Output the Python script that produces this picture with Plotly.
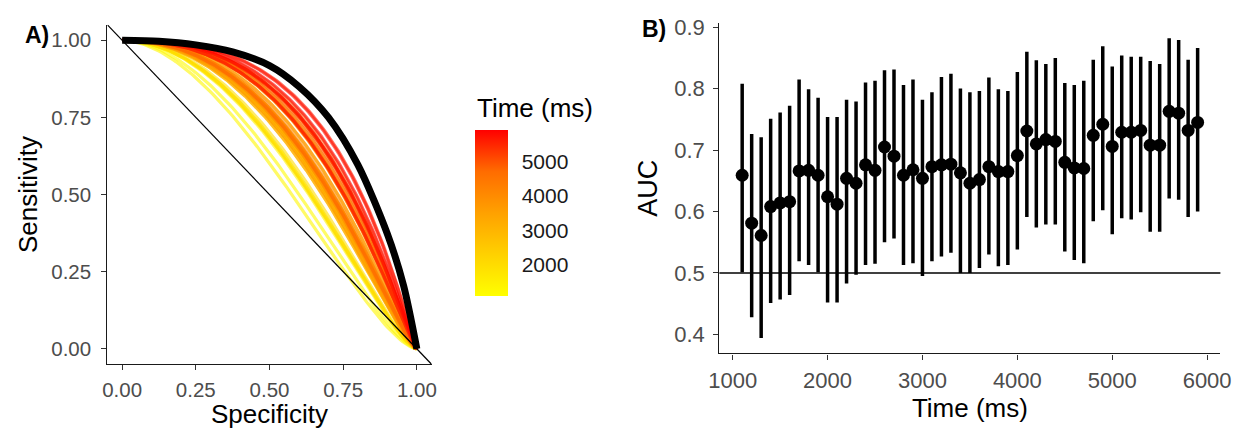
import plotly.graph_objects as go
from statistics import NormalDist

# ---------------- data ----------------
time_ms = [1100, 1200, 1300, 1400, 1500, 1600, 1700, 1800, 1900, 2000,
           2100, 2200, 2300, 2400, 2500, 2600, 2700, 2800, 2900, 3000,
           3100, 3200, 3300, 3400, 3500, 3600, 3700, 3800, 3900, 4000,
           4100, 4200, 4300, 4400, 4500, 4600, 4700, 4800, 4900, 5000,
           5100, 5200, 5300, 5400, 5500, 5600, 5700, 5800, 5900]

auc = [0.659, 0.581, 0.561, 0.608, 0.614, 0.616, 0.666, 0.667, 0.659, 0.624,
       0.612, 0.654, 0.646, 0.676, 0.667, 0.705, 0.690, 0.659, 0.668, 0.654,
       0.673, 0.676, 0.677, 0.663, 0.646, 0.652, 0.673, 0.665, 0.665, 0.691,
       0.731, 0.710, 0.717, 0.714, 0.680, 0.671, 0.670, 0.724, 0.742, 0.706,
       0.729, 0.729, 0.732, 0.708, 0.708, 0.763, 0.760, 0.732, 0.745]

auc_upper = [0.808, 0.726, 0.721, 0.751, 0.761, 0.772, 0.815, 0.799, 0.785, 0.754,
             0.754, 0.782, 0.779, 0.810, 0.813, 0.830, 0.831, 0.806, 0.815, 0.782,
             0.794, 0.819, 0.824, 0.800, 0.794, 0.796, 0.818, 0.799, 0.796, 0.827,
             0.860, 0.846, 0.840, 0.850, 0.809, 0.806, 0.813, 0.847, 0.869, 0.836,
             0.854, 0.852, 0.852, 0.845, 0.840, 0.882, 0.879, 0.847, 0.866]

auc_lower = [0.501, 0.428, 0.394, 0.451, 0.457, 0.464, 0.519, 0.513, 0.501, 0.452,
             0.452, 0.483, 0.497, 0.513, 0.515, 0.550, 0.556, 0.513, 0.516, 0.495,
             0.519, 0.527, 0.533, 0.500, 0.500, 0.508, 0.530, 0.511, 0.513, 0.538,
             0.591, 0.574, 0.579, 0.579, 0.535, 0.521, 0.516, 0.584, 0.602, 0.563,
             0.589, 0.587, 0.599, 0.567, 0.567, 0.621, 0.619, 0.591, 0.600]

# overall ROC curve (thick black)
black_spec = [0.0, 0.125, 0.25, 0.375, 0.5, 0.6, 0.7, 0.8, 0.9, 0.955, 1.0]
black_sens = [1.0, 0.997, 0.985, 0.962, 0.918, 0.850, 0.750, 0.596, 0.372, 0.205, 0.0]

roc_ticks = [0.0, 0.25, 0.5, 0.75, 1.0]
roc_tick_labels = ["0.00", "0.25", "0.50", "0.75", "1.00"]
auc_ticks = [0.4, 0.5, 0.6, 0.7, 0.8, 0.9]
auc_tick_labels = ["0.4", "0.5", "0.6", "0.7", "0.8", "0.9"]
time_ticks = [1000, 2000, 3000, 4000, 5000, 6000]
time_tick_labels = ["1000", "2000", "3000", "4000", "5000", "6000"]
cbar_ticks = [2000, 3000, 4000, 5000]
chance_auc = 0.5

# ---------------- layout helpers (page body has an 8px margin) ----------------
OFF = 8
W, H = 1254 - OFF, 429 - OFF


def px_x(X):
    return (X - OFF) / W


def px_y(Y):
    return 1 - (Y - OFF) / H


FONT = "Liberation Sans, Arial, Helvetica, sans-serif"
TICK_GREY = "#4D4D4D"
colorscale = [[0.0, "#FFFF00"], [0.25, "#FFD100"], [0.5, "#FFA100"],
              [0.75, "#FF6C00"], [1.0, "#FF0000"]]
tmin, tmax = min(time_ms), max(time_ms)
binormal_slope = 1.35
nd = NormalDist()


def hex_to_rgb(h):
    h = h.lstrip("#")
    return tuple(int(h[i:i + 2], 16) for i in (0, 2, 4))


def color_for(t):
    f = (t - tmin) / (tmax - tmin)
    for (f0, c0), (f1, c1) in zip(colorscale[:-1], colorscale[1:]):
        if f0 <= f <= f1:
            w = 0 if f1 == f0 else (f - f0) / (f1 - f0)
            a, b = hex_to_rgb(c0), hex_to_rgb(c1)
            r = [round(a[i] + (b[i] - a[i]) * w) for i in range(3)]
            return "rgb(%d,%d,%d)" % tuple(r)
    return colorscale[-1][1]


def smooth_roc(area, n=120):
    """Binormal ROC curve with the given AUC (sensitivity vs specificity)."""
    a = nd.inv_cdf(area) * (1 + binormal_slope ** 2) ** 0.5
    spec, sens = [], []
    for i in range(n + 1):
        sp = i / n
        if i == 0:
            se = 1.0
        elif i == n:
            se = 0.0
        else:
            se = nd.cdf(a + binormal_slope * nd.inv_cdf(1 - sp))
        spec.append(sp)
        sens.append(se)
    return spec, sens


fig = go.Figure()

# ---- Panel A: ROC curves per time point ----
for t, area in zip(time_ms, auc):
    sx, sy = smooth_roc(area)
    fig.add_trace(go.Scatter(
        x=sx, y=sy, mode="lines", xaxis="x", yaxis="y",
        line=dict(color=color_for(t), width=3.2), opacity=0.6,
        showlegend=False, hoverinfo="skip"))

fig.add_trace(go.Scatter(
    x=black_spec, y=black_sens, mode="lines", xaxis="x", yaxis="y",
    line=dict(color="black", width=7, shape="spline", smoothing=0.8),
    showlegend=False, hoverinfo="skip"))

# colour bar carrier (invisible)
fig.add_trace(go.Scatter(
    x=black_spec[:1], y=black_sens[:1], mode="markers", xaxis="x", yaxis="y",
    marker=dict(size=1, opacity=0, color=[tmin], colorscale=colorscale,
                cmin=tmin, cmax=tmax, showscale=True,
                colorbar=dict(
                    x=px_x(472), xanchor="left", xpad=0,
                    y=px_y(209), yanchor="middle", ypad=0,
                    thickness=33, lenmode="pixels", len=166,
                    outlinewidth=0, tickvals=cbar_ticks,
                    ticks="outside", ticklen=10, tickcolor="white",
                    tickfont=dict(size=21, color="#1A1A1A", family=FONT))),
    showlegend=False, hoverinfo="skip"))

# ---- Panel B: AUC over time ----
fig.add_trace(go.Scatter(
    x=time_ms, y=auc, mode="markers", xaxis="x2", yaxis="y2",
    marker=dict(color="black", size=13),
    error_y=dict(type="data", symmetric=False,
                 array=[u - m for u, m in zip(auc_upper, auc)],
                 arrayminus=[m - l for m, l in zip(auc, auc_lower)],
                 color="black", thickness=3.5, width=0),
    showlegend=False, hoverinfo="skip"))

xr_a = [-0.05, 1.05]
yr_a = [-0.05, 1.05]

shapes = [
    dict(type="line", xref="x", yref="y", x0=xr_a[0], y0=yr_a[1],
         x1=xr_a[1], y1=yr_a[0], line=dict(color="black", width=1.3), layer="above"),
    dict(type="line", xref="x2 domain", yref="y2", x0=0, x1=1,
         y0=chance_auc, y1=chance_auc, line=dict(color="black", width=1.5), layer="below"),
]


def axis_style(tick_size):
    return dict(showline=True, linecolor="#1A1A1A", linewidth=1.3, ticks="outside",
                ticklen=5, tickwidth=1.2, tickcolor="#333333", showgrid=False,
                zeroline=False, ticklabeloverflow="allow",
                tickfont=dict(size=tick_size, color=TICK_GREY, family=FONT))


fig.update_layout(
    width=W, height=H, margin=dict(l=0, r=0, t=0, b=0),
    plot_bgcolor="white", paper_bgcolor="white", showlegend=False,
    font=dict(family=FONT),
    xaxis=dict(domain=[px_x(98), px_x(428)], range=xr_a, tickvals=roc_ticks,
               ticktext=roc_tick_labels, ticklabelstandoff=2,
               title=dict(text="Specificity", font=dict(size=26, color="black", family=FONT),
                          standoff=2),
               anchor="y", **axis_style(20.5)),
    yaxis=dict(domain=[px_y(363), px_y(17)], range=yr_a, tickvals=roc_ticks,
               ticktext=roc_tick_labels, ticklabelstandoff=6,
               title=dict(text="Sensitivity", font=dict(size=26, color="black", family=FONT),
                          standoff=6),
               anchor="x", **axis_style(20.5)),
    xaxis2=dict(domain=[px_x(721), px_x(1231)], range=[860, 6140], tickvals=time_ticks,
                ticktext=time_tick_labels, ticklabelstandoff=2,
                title=dict(text="Time (ms)", font=dict(size=26, color="black", family=FONT),
                           standoff=4),
                anchor="y2", **axis_style(22)),
    yaxis2=dict(domain=[px_y(352), px_y(15)], range=[0.369, 0.907], tickvals=auc_ticks,
                ticktext=auc_tick_labels, ticklabelstandoff=4,
                title=dict(text="AUC", font=dict(size=27, color="black", family=FONT),
                           standoff=8),
                anchor="x2", **axis_style(22)),
    shapes=shapes,
    annotations=[
        dict(text="<b>A)</b>", x=px_x(26), y=px_y(27), xref="paper", yref="paper",
             xanchor="center", yanchor="middle",
             showarrow=False, font=dict(size=23, color="black", family=FONT)),
        dict(text="<b>B)</b>", x=px_x(654), y=px_y(21), xref="paper", yref="paper",
             xanchor="center", yanchor="middle",
             showarrow=False, font=dict(size=23, color="black", family=FONT)),
        dict(text="Time (ms)", x=px_x(472), y=px_y(102), xref="paper", yref="paper",
             xanchor="left", yanchor="middle", showarrow=False,
             font=dict(size=26, color="black", family=FONT)),
    ],
)

fig.write_html("out.html")
